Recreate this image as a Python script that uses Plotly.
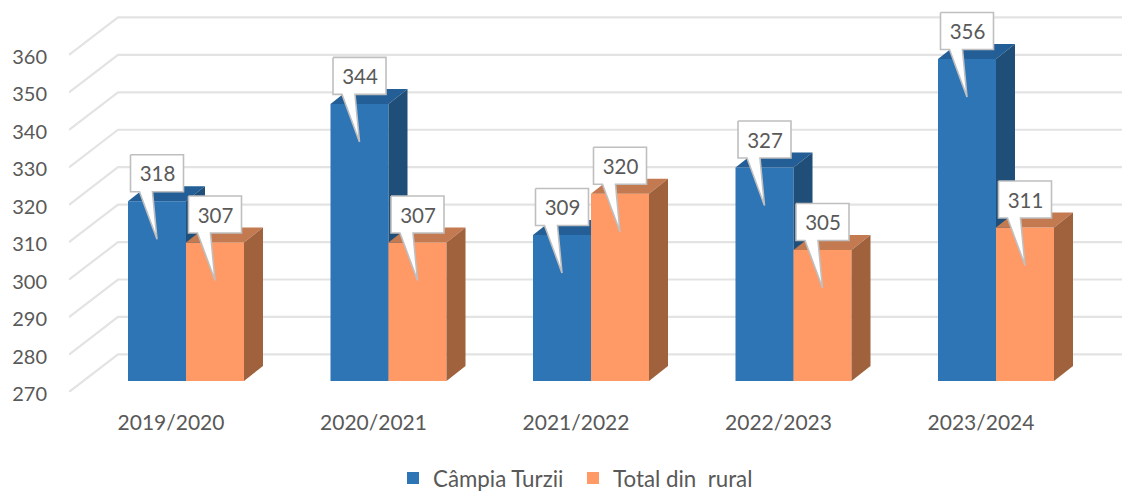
import plotly.graph_objects as go

categories = ["2019/2020", "2020/2021", "2021/2022", "2022/2023", "2023/2024"]
campia_turzii = [318, 344, 309, 327, 356]
total_rural = [307, 307, 320, 305, 311]
y_ticks = [270, 280, 290, 300, 310, 320, 330, 340, 350, 360]

FONT = "Lato"
TXT = "#595959"
W, H = 1122, 493
PX_Y = 337 / 90          # px per value unit
PX_X = 202.5             # px per category
AX_L, AX_B = 69, 392     # px position of the axis plane
X0 = (AX_L - 171) / PX_X
X1 = (W - 171) / PX_X
YMIN, YMAX = 270, 270 + AX_B / PX_Y
ux = lambda px: px / PX_X
uy = lambda px: px / PX_Y

BAR_W = ux(58)
OFF_A = ux(-43)
OFF_B = ux(15)
LIFT = uy(11)            # bar front plane above axis plane
DX, DY = ux(19), uy(15)  # bar depth
WALL_DX, WALL_DY = ux(49), uy(37.6)

fig = go.Figure()

# receding gridlines
gx, gy = [], []
for t in y_ticks:
    gx += [X0, X0 + WALL_DX, X1, None]
    gy += [t, t + WALL_DY, t + WALL_DY, None]
fig.add_trace(go.Scatter(x=gx, y=gy, mode="lines", line=dict(color="#E3E3E3", width=2.2),
                         showlegend=False, hoverinfo="skip"))


def add_series(name, vals, off, front, top, side, xa, ya):
    base = 270 + LIFT
    fig.add_trace(go.Bar(name=name, x=list(range(len(vals))), y=[v - 270 for v in vals],
                         base=base, offset=off, width=BAR_W, marker=dict(color=front, line=dict(width=0)),
                         xaxis=xa, yaxis=ya, hoverinfo="skip"))
    for i, v in enumerate(vals):
        L, R, T = i + off, i + off + BAR_W, v + LIFT
        fig.add_trace(go.Scatter(x=[L, L + DX, R + DX, R, L], y=[T, T + DY, T + DY, T, T], fill="toself",
                                 fillcolor=top, mode="lines", line=dict(width=0, color=top),
                                 showlegend=False, hoverinfo="skip", xaxis=xa, yaxis=ya))
        fig.add_trace(go.Scatter(x=[R, R + DX, R + DX, R, R], y=[T, T + DY, base + DY, base, T], fill="toself",
                                 fillcolor=side, mode="lines", line=dict(width=0, color=side),
                                 showlegend=False, hoverinfo="skip", xaxis=xa, yaxis=ya))


add_series("Câmpia Turzii", campia_turzii, OFF_A, "#2E75B6", "#235F96", "#1F4E79", "x2", "y2")
add_series("Total din  rural", total_rural, OFF_B, "#FF9966", "#C47A50", "#A0623C", "x3", "y3")

# callouts
tx, ty, tt = [], [], []
for vals, off in ((campia_turzii, OFF_A), (total_rural, OFF_B)):
    for i, v in enumerate(vals):
        cx = i + off + BAR_W / 2
        T = v + LIFT
        tip_y = T - uy(38)
        bot = T + uy(9.5)
        topb = T + uy(46.5)
        l, r = cx - ux(26.5), cx + ux(26.5)
        px = [l, r, r, cx - ux(4.5), cx, cx - ux(17.5), l, l]
        py = [topb, topb, bot, bot, tip_y, bot, bot, topb]
        fig.add_trace(go.Scatter(x=px, y=py, fill="toself", fillcolor="white", mode="lines",
                                 line=dict(color="#BFBFBF", width=1.6), showlegend=False,
                                 hoverinfo="skip", xaxis="x3", yaxis="y3"))
        tx.append(cx + ux(0.5))
        ty.append((bot + topb) / 2 - uy(3))
        tt.append(str(v))
fig.add_trace(go.Scatter(x=tx, y=ty, text=tt, mode="text", textposition="middle center",
                         textfont=dict(family=FONT, size=20.5, color=TXT), showlegend=False,
                         hoverinfo="skip", xaxis="x3", yaxis="y3"))

fig.update_layout(
    width=W, height=H, margin=dict(l=AX_L, r=0, t=0, b=H - AX_B),
    paper_bgcolor="white", plot_bgcolor="white", barmode="overlay",
    font=dict(family=FONT, size=20, color=TXT),
    xaxis=dict(range=[X0, X1], tickmode="array", tickvals=list(range(5)), ticktext=categories,
               showgrid=False, zeroline=False, showline=False, ticks="outside", ticklen=12,
               tickcolor="rgba(0,0,0,0)", tickfont=dict(family=FONT, size=21, color=TXT)),
    yaxis=dict(range=[YMIN, YMAX], tickmode="array", tickvals=y_ticks, showgrid=False, zeroline=False,
               showline=False, ticks="outside", ticklen=17, tickcolor="rgba(0,0,0,0)", ticklabelshift=2,
               tickfont=dict(family=FONT, size=20, color=TXT)),
    xaxis2=dict(range=[X0, X1], overlaying="x", visible=False),
    yaxis2=dict(range=[YMIN, YMAX], overlaying="y", visible=False),
    xaxis3=dict(range=[X0, X1], overlaying="x", visible=False),
    yaxis3=dict(range=[YMIN, YMAX], overlaying="y", visible=False),
    legend=dict(orientation="h", xref="container", yref="container", x=(433 - 40) / W, y=(H - 478) / H,
                xanchor="left", yanchor="middle", entrywidth=135, entrywidthmode="pixels",
                font=dict(family=FONT, size=22.3, color=TXT), bgcolor="rgba(0,0,0,0)", traceorder="normal"),
)
fig.write_html("out.html", config={"displayModeBar": False},
               post_script="document.body.style.margin='0';")
